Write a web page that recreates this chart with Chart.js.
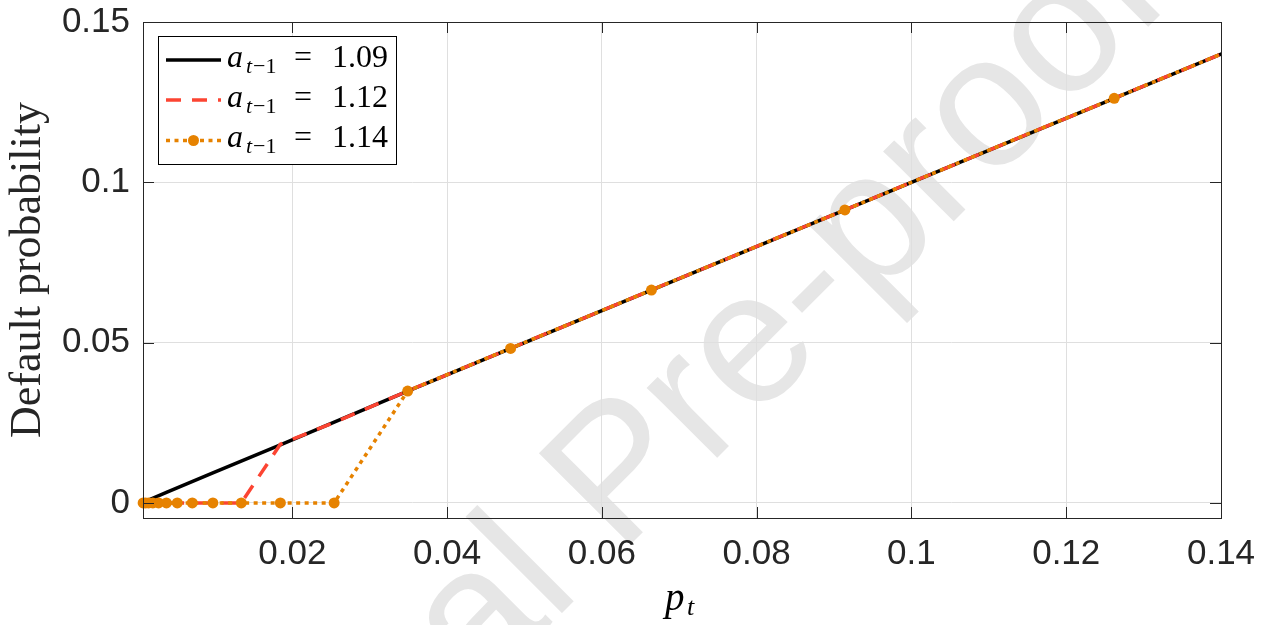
<!DOCTYPE html>
<html>
<head>
<meta charset="utf-8">
<script src="https://cdn.jsdelivr.net/npm/chart.js@4.4.0/dist/chart.umd.min.js"></script>
<style>
  html, body { margin: 0; padding: 0; background: #fff; }
  canvas { display: block; }
</style>
</head>
<body>
<canvas id="defaultChart" width="1271" height="625"></canvas>
<script>
// values
const blackX = [0.00072, 0.00373, 0.00973, 0.01845, 0.0349, 0.1738];
const blackY = [0.0002, 0.0033, 0.0094, 0.0181, 0.0349, 0.1738];

const redX = [0.00072, 0.0134, 0.01845, 0.0254, 0.0349, 0.1738];
const redY = [0, 0, 0.0183, 0.0251, 0.0349, 0.1738];

const orangeX = [0.00072, 0.00104, 0.00143, 0.00197, 0.00271, 0.00373, 0.00513, 0.00707, 0.00973, 0.0134, 0.01845, 0.0254,
                 0.0349, 0.0482, 0.0664, 0.0914, 0.1262, 0.1738];
const orangeY = [0, 0, 0, 0, 0, 0, 0, 0, 0, 0, 0, 0,
                 0.0349, 0.0482, 0.0664, 0.0914, 0.1262, 0.1738];

const legendValues = ['1.09', '1.12', '1.14'];

const xTicks = [0.02, 0.04, 0.06, 0.08, 0.1, 0.12, 0.14];
const xTickLabels = ['0.02', '0.04', '0.06', '0.08', '0.1', '0.12', '0.14'];
const yTicks = [0, 0.05, 0.1, 0.15];
const yTickLabels = ['0', '0.05', '0.1', '0.15'];

const BLACK = '#000000';
const RED = 'rgb(252,68,50)';
const ORANGE = 'rgb(230,130,0)';
const AXIS = '#262626';

function toPoints(xs, ys) {
  return xs.map((x, i) => ({ x: x, y: ys[i] }));
}

const clipBox = { left: 8, top: 0, right: 0, bottom: 8 };

// gray "Journal Pre-proof" stamp behind everything
const watermark = {
  id: 'watermark',
  beforeDraw(chart) {
    const ctx = chart.ctx;
    ctx.save();
    ctx.fillStyle = '#fff';
    ctx.fillRect(0, 0, chart.width, chart.height);
    ctx.translate(660, 515);
    ctx.rotate(-Math.PI / 4);
    ctx.font = '188px "Liberation Sans", Arial, sans-serif';
    ctx.fillStyle = 'rgb(230,230,230)';
    ctx.textAlign = 'center';
    ctx.textBaseline = 'alphabetic';
    ctx.fillText('Journal Pre-proof', 0, 0);
    ctx.restore();
  }
};

function mathLabel(ctx, x, base, value) {
  ctx.fillStyle = '#000';
  ctx.textAlign = 'left';
  ctx.textBaseline = 'alphabetic';
  ctx.font = 'italic 32px "Liberation Serif", serif';
  ctx.fillText('a', x, base);
  ctx.font = 'italic 22px "Liberation Serif", serif';
  ctx.fillText('t', x + 19, base + 6);
  ctx.font = '22px "Liberation Serif", serif';
  ctx.fillText('\u22121', x + 26, base + 6);
  ctx.font = '32px "Liberation Serif", serif';
  ctx.fillText('=', x + 67, base);
  ctx.fillText(value, x + 105, base);
}

// box, inward ticks, legend and x title (MATLAB look)
const matlabFrame = {
  id: 'matlabFrame',
  afterDraw(chart) {
    const ctx = chart.ctx;
    const a = chart.chartArea;
    const xs = chart.scales.x, ys = chart.scales.y;
    ctx.save();
    ctx.strokeStyle = AXIS;
    ctx.lineWidth = 1;
    ctx.strokeRect(Math.round(a.left) + 0.5, Math.round(a.top) + 0.5, Math.round(a.right - a.left), Math.round(a.bottom - a.top));
    ctx.beginPath();
    xTicks.forEach(v => {
      const px = Math.round(xs.getPixelForValue(v)) + 0.5;
      ctx.moveTo(px, a.bottom); ctx.lineTo(px, a.bottom - 11);
      ctx.moveTo(px, a.top); ctx.lineTo(px, a.top + 11);
    });
    yTicks.forEach(v => {
      const py = Math.round(ys.getPixelForValue(v)) + 0.5;
      ctx.moveTo(a.left, py); ctx.lineTo(a.left + 11, py);
      ctx.moveTo(a.right, py); ctx.lineTo(a.right - 11, py);
    });
    ctx.stroke();

    // legend
    ctx.fillStyle = '#fff';
    ctx.fillRect(158, 36, 238, 128);
    ctx.strokeStyle = '#000';
    ctx.strokeRect(158.5, 36.5, 238, 128);
    const rows = [60, 100, 140.5];
    const styles = [
      { color: BLACK, dash: [] },
      { color: RED, dash: [15, 11] },
      { color: ORANGE, dash: [4, 4.5], marker: true }
    ];
    rows.forEach((y, i) => {
      const s = styles[i];
      ctx.beginPath();
      ctx.setLineDash(s.dash);
      ctx.lineDashOffset = 0;
      ctx.strokeStyle = s.color;
      ctx.lineWidth = 3.5;
      ctx.moveTo(166, y); ctx.lineTo(221, y);
      ctx.stroke();
      ctx.setLineDash([]);
      if (s.marker) {
        ctx.beginPath();
        ctx.fillStyle = s.color;
        ctx.arc(193.5, y, 5.5, 0, Math.PI * 2);
        ctx.fill();
      }
      mathLabel(ctx, 227, y + 6.5, legendValues[i]);
    });

    // x title p_t
    ctx.fillStyle = '#000';
    ctx.textAlign = 'left';
    ctx.textBaseline = 'alphabetic';
    ctx.font = 'italic 39px "Liberation Serif", serif';
    ctx.fillText('p', 665, 610);
    ctx.font = 'italic 26px "Liberation Serif", serif';
    ctx.fillText('t', 687, 615);
    ctx.restore();
  }
};

const ctx = document.getElementById('defaultChart');
const chart = new Chart(ctx, {
  type: 'line',
  data: {
    datasets: [
      {
        label: 'a_{t-1} = 1.09',
        data: toPoints(blackX, blackY),
        borderColor: BLACK,
        borderWidth: 3.5,
        pointRadius: 0,
        order: 3,
        clip: clipBox
      },
      {
        label: 'a_{t-1} = 1.12',
        data: toPoints(redX, redY),
        borderColor: RED,
        borderWidth: 3.5,
        borderDash: [15, 11],
        pointRadius: 0,
        order: 2,
        clip: clipBox
      },
      {
        label: 'a_{t-1} = 1.14',
        data: toPoints(orangeX, orangeY),
        borderColor: ORANGE,
        borderWidth: 3.5,
        borderDash: [4, 4.5],
        borderCapStyle: 'butt',
        pointRadius: 5.5,
        pointHoverRadius: 5.5,
        pointBackgroundColor: ORANGE,
        pointBorderWidth: 0,
        order: 1,
        clip: clipBox
      }
    ]
  },
  options: {
    responsive: false,
    animation: false,
    devicePixelRatio: 1,
    layout: { padding: { left: 0, right: 50, top: 22, bottom: 0 } },
    plugins: {
      legend: { display: false },
      tooltip: { enabled: false }
    },
    scales: {
      x: {
        type: 'linear',
        min: 0.0007,
        max: 0.14,
        afterBuildTicks: s => { s.ticks = xTicks.map(v => ({ value: v })); },
        afterFit: s => { s.height = 107; s.paddingLeft = 0; s.paddingRight = 0; },
        grid: { color: '#dfdfdf', lineWidth: 1, drawTicks: false },
        border: { display: false },
        ticks: {
          padding: 15,
          color: AXIS,
          font: { family: '"Liberation Sans", Arial, sans-serif', size: 35 },
          callback: (v, i) => xTickLabels[i]
        }
      },
      y: {
        type: 'linear',
        min: -0.0047,
        max: 0.15,
        afterBuildTicks: s => { s.ticks = yTicks.map(v => ({ value: v })); },
        afterFit: s => { s.width = 143; s.paddingTop = 0; s.paddingBottom = 0; },
        grid: { color: '#dfdfdf', lineWidth: 1, drawTicks: false },
        border: { display: false },
        ticks: {
          padding: 13,
          color: AXIS,
          font: { family: '"Liberation Sans", Arial, sans-serif', size: 35 },
          callback: (v, i) => yTickLabels[i]
        },
        title: {
          display: true,
          text: 'Default probability',
          color: AXIS,
          padding: { top: 2, bottom: 0 },
          font: { family: '"Liberation Serif", serif', size: 44 }
        }
      }
    }
  },
  plugins: [watermark, matlabFrame]
});
</script>
</body>
</html>
